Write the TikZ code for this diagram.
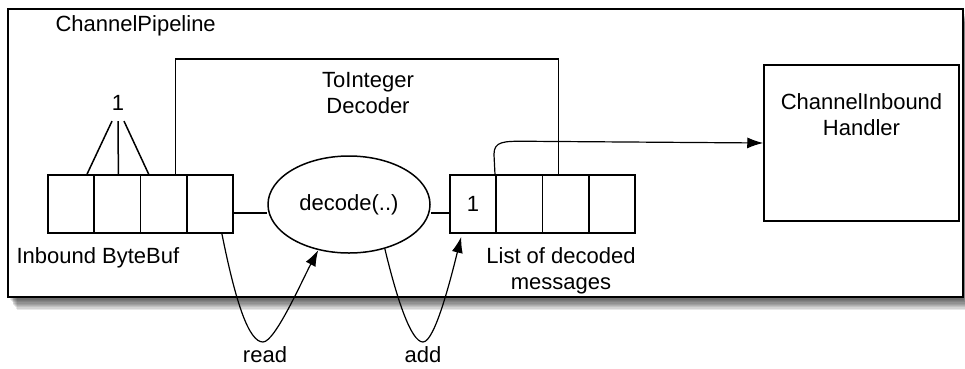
\documentclass[tikz,border=0pt]{standalone}
\usepackage{fontspec}
\setmainfont{Liberation Sans}
\usetikzlibrary{shapes.geometric,arrows.meta,calc}
\begin{document}
\begin{tikzpicture}[x=1pt,y=-1pt,
  every node/.style={font=\fontsize{22}{26}\selectfont, text=black},
  ln/.style={line width=1.5pt},
  cell/.style={draw, line width=1.5pt, minimum width=46.25pt, minimum height=58pt, inner sep=0pt},
  arr/.style={line width=1.2pt, -{Latex[length=16pt,width=11pt]}},
  ]
\useasboundingbox (0,0) rectangle (965,368);
% shadow of the pipeline frame
\foreach \i in {1,...,10} {
  \fill[black, opacity=0.09] (8+\i*0.9, 9+\i*1.3) rectangle (963+\i*0.4, 297+\i*1.3);
}
\node[draw, fill=white, line width=1.8pt, minimum width=955pt, minimum height=288pt, inner sep=0pt] (pipe) at (485.5,153) {};
\node[anchor=west] (pipetext) at (52,26) {ChannelPipeline};

% decoder frame (open at the bottom)
\node[minimum width=382.8pt, minimum height=116pt, inner sep=0pt] (decbox) at (366.9,117) {};
\draw[ln] (decbox.south west) -- (decbox.north west) -- (decbox.north east) -- (decbox.south east);
\node[align=center] (dectext) at (368,93.5) {ToInteger\\Decoder};

% inbound buffer
\foreach \n/\x in {b1/71.1,b2/117.4,b3/163.6,b4/209.9}
  \node[cell] (\n) at (\x,204) {};
\node[anchor=west] (inbl) at (13,258) {Inbound ByteBuf};

% the "1" marker
\node (one) at (118,103) {1};
\draw[ln] ($(one.south)+(-6,7)$) -- ($(b1.north east)+(-8,0)$);
\draw[ln] ($(one.south)+(0,7)$) -- ($(b2.north)+(1,0)$);
\draw[ln] ($(one.south)+(6,7)$) -- ($(b3.north west)+(9,0)$);

% decode ellipse
\node[draw, ellipse, line width=1.5pt, minimum width=162pt, minimum height=97pt, inner sep=0pt] (dec) at (349,204.5) {decode(..)};

% list of decoded messages
\foreach \n/\x in {l1/473.1,l2/519.4,l3/565.6,l4/611.9}
  \node[cell] (\n) at (\x,204) {};
\node at (l1) {1};
\node[align=center] (listl) at (561,270.5) {List of decoded\\messages};

% connectors buffer - ellipse - list
\draw[ln] ($(b4.east)!0.3!(b4.south east)$) coordinate (r1) -- (r1 -| dec.west);
\draw[ln] ($(l1.west)!0.3!(l1.south west)$) coordinate (r2) -- (r2 -| dec.east);

% handler
\node[draw, line width=1.5pt, minimum width=195pt, minimum height=156pt, inner sep=0pt] (hand) at (861.5,143) {};
\node[align=center] (handtext) at (861.5,114.5) {ChannelInbound\\Handler};

% arrow to handler
\draw[arr] ($(l1.north east)+(-2,0)$) -- ++(-1,-20) .. controls +(0,-13) and +(-20,0) .. ++(30,-13) -- (hand.west);

% read / add loops
\node[inner sep=0pt] (read) at (265,355) {read};
\node[inner sep=0pt] (add) at (423,355) {add};
\coordinate (rb) at (263,342);
\coordinate (ab) at (423,342);
\draw[arr] ($(b4.south)+(12,0)$) .. controls +(14,70) and +(-14,0) .. (rb) .. controls +(12,0) and +(-16,30) .. (dec.236);
\draw[arr] (dec.309) .. controls +(12,50) and +(-12,0) .. (ab) .. controls +(12,0) and +(-10,40) .. ($(l1.south west)+(12,3)$);
\end{tikzpicture}
\end{document}
